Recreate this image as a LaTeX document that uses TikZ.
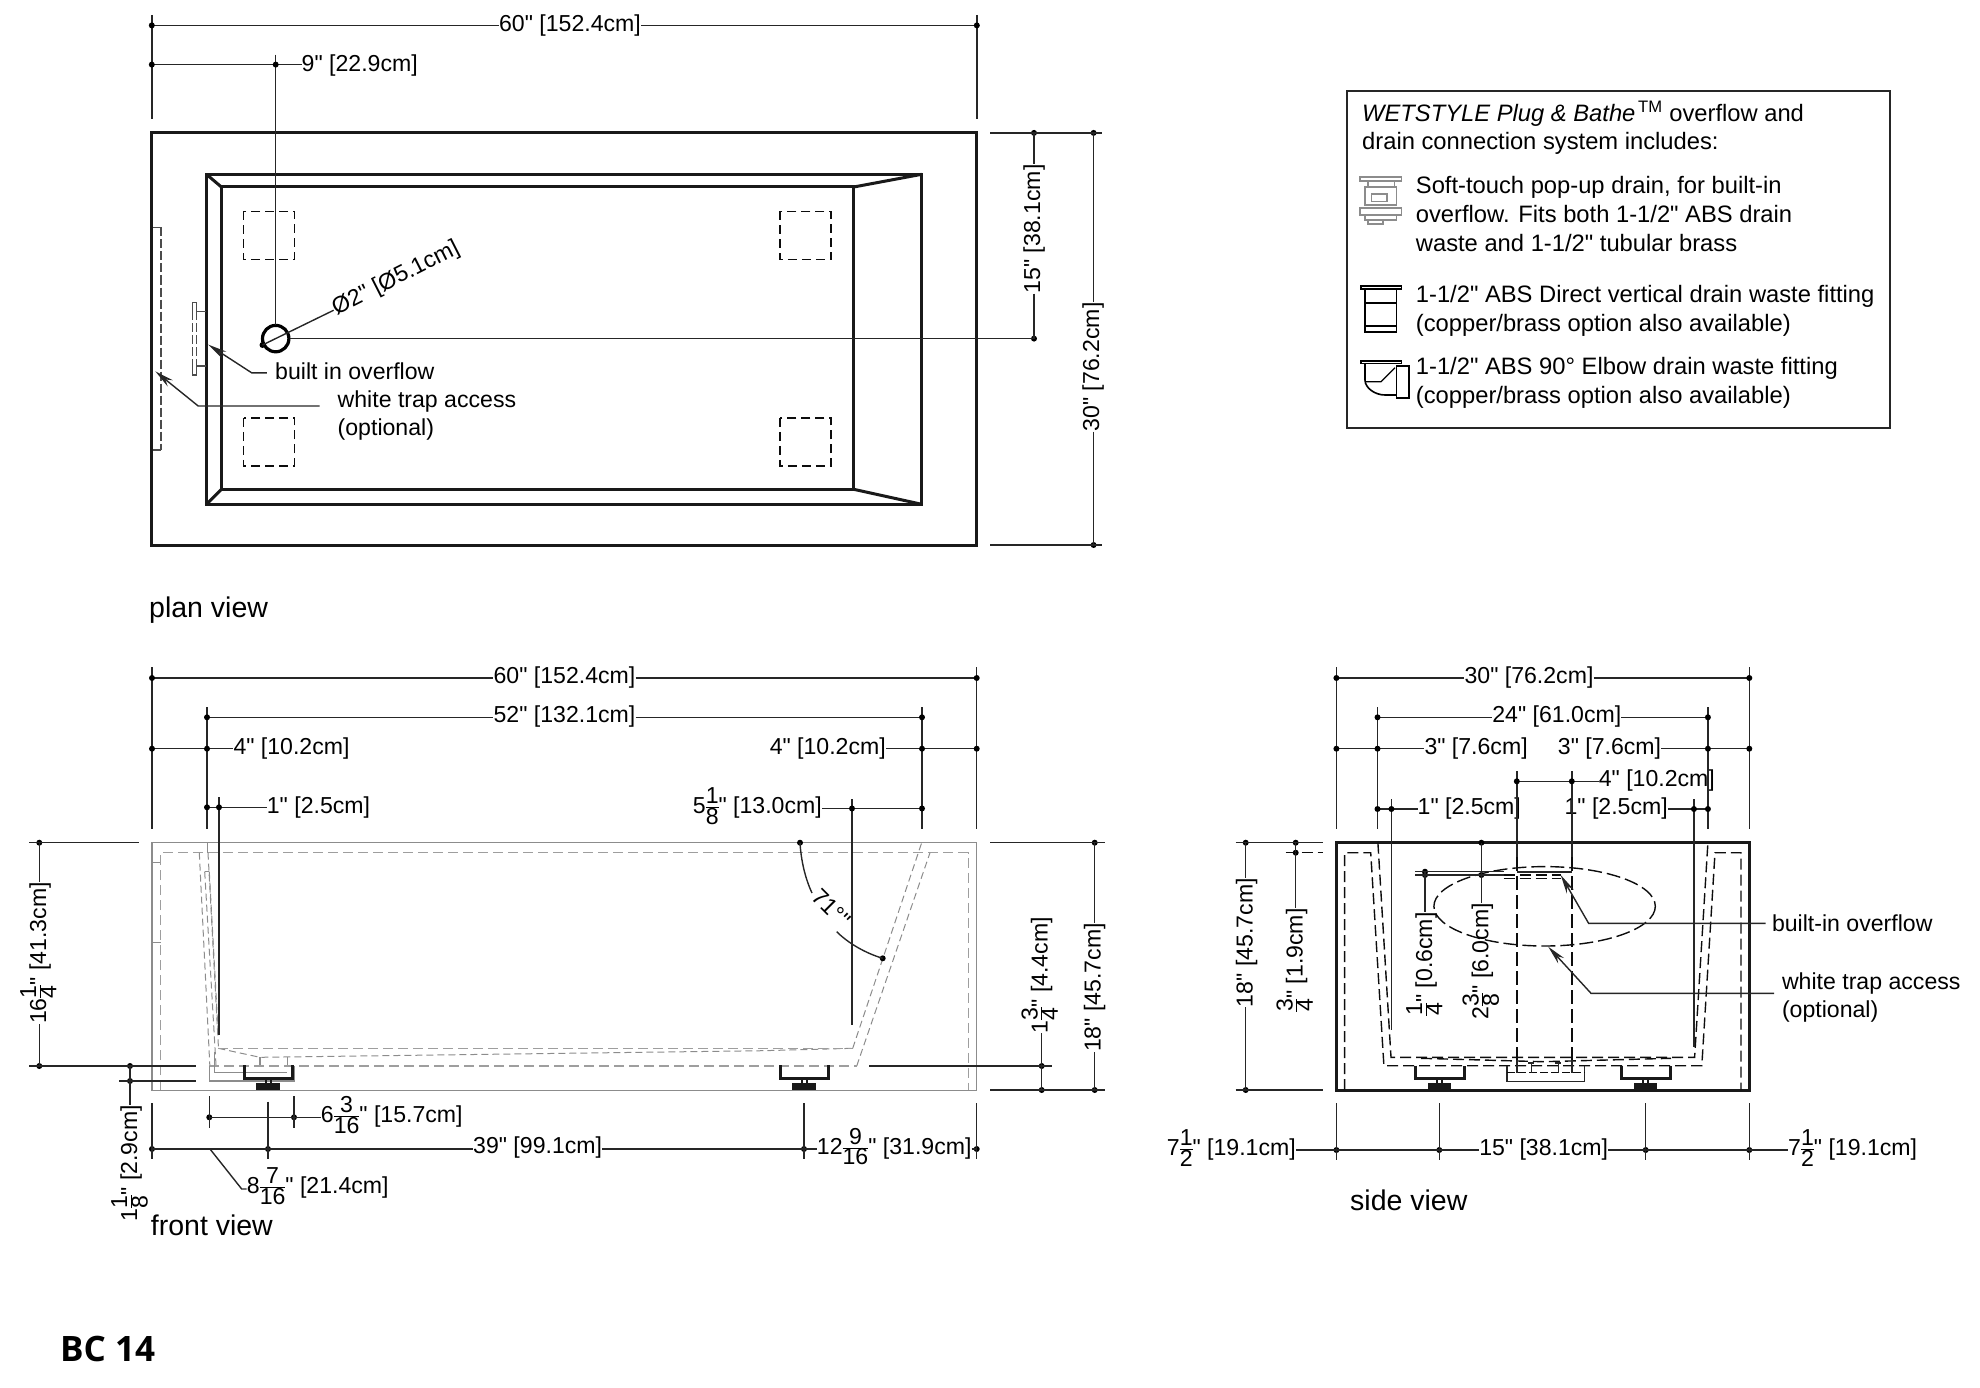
\documentclass[tikz,border=0pt]{standalone}
\usepackage{fontspec}
\newfontfamily\dimface{Liberation Sans}
\newfontfamily\labelfont{Open Sans}
\usepackage{tikz}
\usetikzlibrary{arrows.meta}
\usetikzlibrary{calc}
\definecolor{linegray}{rgb}{0.55,0.55,0.55}
\definecolor{dashgray}{rgb}{0.62,0.62,0.62}
\newcommand{\dimfont}{\dimface\fontsize{23.1}{27}\selectfont}
\newcommand{\legfont}{\dimface\fontsize{23.75}{27}\selectfont}
\newcommand{\viewfont}{\dimface\fontsize{28.5}{33}\selectfont}
\newcommand{\fr}[2]{{\nulldelimiterspace=0pt$\frac{\mbox{#1}}{\mbox{#2}}$}}
\tikzset{
  dimtxt/.style={inner sep=0pt,font=\dimfont},
  legtxt/.style={inner sep=0pt,font=\legfont,anchor=base west},
  viewtxt/.style={inner sep=0pt,font=\viewfont,anchor=base west},
  dimline/.style={line width=1.4pt,black!85},
  outline/.style={line width=3pt,black!90,line join=miter},
  thinline/.style={line width=1.1pt,linegray},
  graydash/.style={line width=1.3pt,dashgray,dash pattern=on 10pt off 5pt},
  fine/.style={line width=1pt,linegray,dash pattern=on 7pt off 4pt},
  blackdash/.style={line width=1.4pt,black!95,dash pattern=on 11pt off 5pt},
  leader/.style={line width=1.4pt,black!85,-{Stealth[length=19pt,width=8pt]}}
}
\begin{document}
\begin{tikzpicture}[x=1pt,y=-1pt]
\useasboundingbox (0,0) rectangle (1980,1388);

% plan view
\draw[outline] (151.8,132.9) rectangle (976.8,545);
\draw[outline] (206.4,174.3) rectangle (921.8,504.3);
\draw[outline] (221.4,187) rectangle (853.7,489.3);
\draw[outline] (206.4,174.3) -- (221.4,187);
\draw[outline] (206.4,504.3) -- (221.4,489.3);
\draw[outline] (921.8,174.3) -- (853.7,187);
\draw[outline] (921.8,504.3) -- (853.7,489.3);
\foreach \x in {243.6,780} {
  \draw[blackdash,dash pattern=on 9pt off 5pt] (\x,211.4) rectangle ++(51,48.2);
  \draw[blackdash,dash pattern=on 9pt off 5pt] (\x,417.9) rectangle ++(51,48.2);
}
\draw[line width=3.2pt] (275.7,338.6) circle (13.2);
\fill (262.5,345) circle (3);
% white trap access and overflow
\draw[thinline,black!70] (152.9,227.5) -- (161,227.5);
\draw[thinline,black!70] (152.9,450) -- (161,450);
\draw[line width=1.1pt,black!70,dash pattern=on 9pt off 3pt] (161,227.5) -- (161,450);
\draw[line width=1.1pt,black!70] (206.4,311.4) -- (196.4,311.4) -- (196.4,302.5) -- (192.9,302.5) -- (192.9,311.4);
\draw[line width=1.1pt,black!70] (206.4,366) -- (196.4,366) -- (196.4,375) -- (192.9,375) -- (192.9,366);
\draw[line width=1.1pt,black!70,dash pattern=on 9pt off 3pt] (192.9,311.4) -- (192.9,366);
\draw[line width=1.1pt,black!70,dash pattern=on 9pt off 3pt] (196.4,311.4) -- (196.4,366);

\node[dimtxt] (plan60) at (570,32) [anchor=base] {60" [152.4cm]};
\draw[dimline] (151.8,25.4) -- (plan60.west|-0,25.4);
\draw[dimline] (plan60.east|-0,25.4) -- (976.8,25.4);
\node[dimtxt,anchor=base west] (plan9) at (301.5,71.5) {9" [22.9cm]};
\draw[dimline] (151.8,64.6) -- (plan9.west|-0,64.6);
\draw[dimline] (151.8,15) -- (151.8,119);
\draw[dimline] (976.8,15) -- (976.8,119);
\draw[dimline] (275.7,54.6) -- (275.7,325.4);
\foreach \x/\y in {151.8/25.4,976.8/25.4,151.8/64.6,275.7/64.6,1034/338.6,1034/132.9,1093.6/132.9,1093.6/545}
  \fill (\x,\y) circle (3);
\node[dimtxt,rotate=26.9,anchor=base] (plandia) at (398.6,284) {Ø2" [Ø5.1cm]};
\draw[dimline] (262.5,345) -- (plandia.west);
\draw[dimline] (290.4,338.6) -- (1034,338.6);
\node[dimtxt,rotate=90,anchor=base] (plan15) at (1040,229) {15" [38.1cm]};
\draw[dimline] (1034,132.9) -- (plan15.east-|1034,0);
\draw[dimline] (plan15.west-|1034,0) -- (1034,338.6);
\node[dimtxt,rotate=90,anchor=base] (plan30) at (1099,367) {30" [76.2cm]};
\draw[dimline] (1093.6,132.9) -- (plan30.east-|1093.6,0);
\draw[dimline] (plan30.west-|1093.6,0) -- (1093.6,545);
\draw[dimline] (990,132.9) -- (1102,132.9);
\draw[dimline] (990,545) -- (1102,545);
\node[dimtxt,anchor=base west] (planof) at (275,379) {built in overflow};
\node[dimtxt,anchor=base west] (plantrap) at (337.5,407) {white trap access};
\node[dimtxt,anchor=base west] (planopt) at (337.5,435.5) {(optional)};
\coordinate (planofend) at (266.8,372.9);
\draw[leader] (planofend) -- (251.8,372.9) -- (208.2,344.6);
\draw[leader] (319.6,406) -- (198.2,406) -- (155.4,371.4);
\node[viewtxt] (planview) at (149,617.5) {plan view};

% legend
\draw[line width=1.5pt,black!85] (1346.8,91) rectangle (1890,428);
\node[legtxt] (leg1) at (1362,121.5) {\textit{WETSTYLE Plug \& Bathe}\textsuperscript{\,TM} overflow and};
\node[legtxt] (leg2) at (1362,150) {drain connection system includes:};
\node[legtxt] (leg3) at (1415.7,194) {Soft-touch pop-up drain, for built-in};
\node[legtxt] (leg4) at (1415.7,223) {overflow. Fits both 1-1/2" ABS drain};
\node[legtxt] (leg5) at (1415.7,252) {waste and 1-1/2" tubular brass};
\node[legtxt] (leg6) at (1415.7,302.5) {1-1/2" ABS Direct vertical drain waste fitting};
\node[legtxt] (leg7) at (1415.7,331.5) {(copper/brass option also available)};
\node[legtxt] (leg8) at (1415.7,374.5) {1-1/2" ABS 90° Elbow drain waste fitting};
\node[legtxt] (leg9) at (1415.7,403.5) {(copper/brass option also available)};
% legend icons
\draw[thinline] (1360,177) rectangle (1401.5,181);
\draw[thinline] (1368,181) rectangle (1394.6,187);
\draw[thinline] (1365,187) rectangle (1396.5,205);
\draw[thinline] (1371.7,194) rectangle (1387,201.7);
\draw[thinline] (1360,208) rectangle (1401.5,215);
\draw[thinline] (1365,215) rectangle (1396.5,220);
\draw[thinline] (1368,220) rectangle (1383,224);
\draw[line width=1.6pt] (1361,286) rectangle (1401.5,289);
\draw[line width=1.6pt] (1365,289) rectangle (1396.5,332);
\draw[line width=1.6pt] (1365,303) -- (1396.5,303);
\draw[line width=1.6pt] (1365,326) -- (1396.5,326);
\draw[line width=1.6pt] (1361,360.7) rectangle (1401.5,363.3);
\draw[line width=1.6pt] (1365,363.3) -- (1365,380) .. controls (1365,388) and (1375,395) .. (1385,395) -- (1396.5,395);
\draw[line width=1.6pt] (1396.5,366) rectangle (1409,397.7);
\draw[line width=1.2pt] (1365,381.7) -- (1381,381.7) -- (1395,367.7);

% front view
\draw[thinline] (152,842.7) rectangle (976.7,1090.3);
\draw[thinline] (152,862.7) -- (160.7,862.7);
\draw[thinline] (152,942.3) -- (160.7,942.3);
\draw[thinline] (207.3,842.7) -- (207.3,852.7);
\draw[graydash] (160.7,1090) -- (160.7,852.7) -- (968.3,852.7) -- (968.3,1090);
\draw[fine] (199.3,852.7) -- (209.8,1065);
\draw[fine] (208,852.7) -- (218.5,1048.3);
\draw[fine] (204.7,871.7) -- (216,1065);
\draw[fine] (209.3,871.7) -- (218,1030);
\draw[thinline] (204.7,871.7) -- (209.3,871.7);
\draw[fine] (218.3,1048.3) -- (260,1057.3) -- (763,1050.7) -- (852.7,1048.3);
\draw[graydash] (218.3,1048.3) -- (852.7,1048.3);
\draw[fine] (852.7,1048.3) -- (921.7,842.7);
\draw[fine] (856.7,1066) -- (930,852.7);
\draw[graydash] (209.3,1066) -- (856.7,1066);
\draw[thinline] (209.3,1066) -- (209.3,1081) -- (294.3,1081) -- (294.3,1066);
\draw[thinline] (214.3,1052) -- (214.3,1072.7) -- (286.7,1072.7);
\draw[thinline] (260,1057.3) -- (260,1065);
\draw[thinline] (287.3,1057.3) -- (287.3,1065);
\foreach \x in {268,804} {
  \draw[line width=3pt,black!90] (\x-24,1065) -- (\x-24,1078.3) -- (\x+24.5,1078.3) -- (\x+24.5,1065);
  \draw[line width=2pt,black!90] (\x-2.5,1078.3) -- (\x-2.5,1084);
  \draw[line width=2pt,black!90] (\x+2.5,1078.3) -- (\x+2.5,1084);
  \draw[line width=1.5pt,black!90,fill=black!90] (\x-11,1084) rectangle (\x+11,1089);
}
\node[dimtxt,anchor=base] (front60) at (564.5,683) {60" [152.4cm]};
\draw[dimline] (152,678) -- (front60.west|-0,678);
\draw[dimline] (front60.east|-0,678) -- (976.7,678);
\node[dimtxt,anchor=base] (front52) at (564.5,722.5) {52" [132.1cm]};
\draw[dimline] (207,717.3) -- (front52.west|-0,717.3);
\draw[dimline] (front52.east|-0,717.3) -- (922,717.3);
\node[dimtxt,anchor=base west] (front4l) at (233.3,754) {4" [10.2cm]};
\draw[dimline] (152,748.7) -- (front4l.west|-0,748.7);
\node[dimtxt,anchor=base east] (front4r) at (886,754) {4" [10.2cm]};
\draw[dimline] (front4r.east|-0,748.7) -- (976.7,748.7);
\node[dimtxt,anchor=base west] (front1) at (266.7,813) {1" [2.5cm]};
\draw[dimline] (207,807.3) -- (front1.west|-0,807.3);
\node[dimtxt,anchor=base east] (front5) at (822,813.5) {5\fr{1}{8}" [13.0cm]};
\draw[dimline] (front5.east|-0,808.5) -- (922,808.5);
\draw[dimline] (152,667.3) -- (152,829.3);
\draw[dimline] (976.7,667.3) -- (976.7,829.3);
\draw[dimline] (207,707.3) -- (207,829.3);
\draw[dimline] (922,707.3) -- (922,829.3);
\draw[dimline] (219,797.3) -- (219,1035);
\draw[dimline] (852,799.3) -- (852,1025);
\foreach \x/\y in {152/678,976.7/678,207/717.3,922/717.3,152/748.7,207/748.7,922/748.7,976.7/748.7,
    207/807.3,219/807.3,852/808.5,922/808.5,
    39.3/842.7,39.3/1066,130/1066,130/1081,
    1041.7/1066,1041.7/1090,1094.7/842.7,1094.7/1090,
    209.3/1117.3,294/1117.3,152/1149,268/1149,804/1149,976.7/1149,800/842.7,882.7/958.3}
  \fill (\x,\y) circle (3);
% front view left side
\node[dimtxt,rotate=90,anchor=base] (front16) at (46,953) {16\fr{1}{4}" [41.3cm]};
\draw[dimline] (39.3,842.7) -- (front16.east-|39.3,0);
\draw[dimline] (front16.west-|39.3,0) -- (39.3,1066);
\draw[dimline] (29.3,842.7) -- (138.7,842.7);
\draw[dimline] (29.3,1066) -- (196,1066);
\draw[dimline] (119.3,1081) -- (196,1081);
\node[dimtxt,rotate=90,anchor=base] (front11) at (137,1163) {1\fr{1}{8}" [2.9cm]};
\draw[dimline] (130,1066) -- (front11.east-|130,0);
% front view right side
\node[dimtxt,rotate=90,anchor=base] (front13) at (1047.5,975) {1\fr{3}{4}" [4.4cm]};
\draw[dimline] (1041.7,1090) -- (front13.west-|1041.7,0);
\draw[dimline] (869.3,1066) -- (1051.7,1066);
\node[dimtxt,rotate=90,anchor=base] (front18) at (1100.5,987.5) {18" [45.7cm]};
\draw[dimline] (1094.7,842.7) -- (front18.east-|1094.7,0);
\draw[dimline] (front18.west-|1094.7,0) -- (1094.7,1090);
\draw[dimline] (990,842.7) -- (1105,842.7);
\draw[dimline] (990,1090) -- (1105,1090);
% angle
\node[dimtxt,rotate=-45,anchor=base] (front71) at (826,914) {71°"};
\draw[dimline] (800,842.7) .. controls (801,860) and (805,878) .. (812,893);
\draw[dimline] (836.7,931.7) .. controls (848,943) and (865,953) .. (882.7,958.3);
% front view bottom
\node[dimtxt,anchor=base west] (front6) at (320.7,1122.5) {6\fr{3}{16}" [15.7cm]};
\draw[dimline] (209.3,1117.3) -- (front6.west|-0,1117.3);
\draw[dimline] (209.3,1096) -- (209.3,1127.7);
\draw[dimline] (294,1096) -- (294,1127.7);
\node[dimtxt,anchor=base west] (front39) at (473,1153.5) {39" [99.1cm]};
\draw[dimline] (152,1149) -- (front39.west|-0,1149);
\node[dimtxt,anchor=base west] (front12) at (816.7,1154) {12\fr{9}{16}" [31.9cm]};
\draw[dimline] (front39.east|-0,1149) -- (front12.west|-0,1149);
\draw[dimline] (front12.east|-0,1149) -- (976.7,1149);
\draw[dimline] (152,1103.3) -- (152,1159.3);
\draw[dimline] (268,1101.7) -- (268,1159.3);
\draw[dimline] (804,1103.3) -- (804,1159.3);
\draw[dimline] (976.7,1103.3) -- (976.7,1159.3);
\node[dimtxt,anchor=base west] (front8) at (246.7,1193.5) {8\fr{7}{16}" [21.4cm]};
\draw[dimline] (210,1149) -- (241.7,1189) -- (front8.west|-0,1189);
\node[viewtxt] (frontview) at (150.7,1235.5) {front view};

% side view
\draw[outline] (1336.4,842.7) rectangle (1749.3,1090);
\draw[blackdash] (1344.6,1090) -- (1344.6,852.7) -- (1370.7,852.7) -- (1383.9,1065.7) -- (1701.8,1065.7) -- (1715,852.7) -- (1741,852.7) -- (1741,1090);
\draw[blackdash] (1377.9,842.7) -- (1391,1057.3) -- (1694.6,1057.3) -- (1707.9,842.7);
\draw[blackdash] (1421,1058.3) -- (1542.9,1061.7) -- (1671,1058.3);
\draw[blackdash,dash pattern=on 14pt off 5pt] (1516.8,857.3) -- (1516.8,1060);
\draw[blackdash,dash pattern=on 14pt off 5pt] (1571.8,857.3) -- (1571.8,1060);
\draw[blackdash,dash pattern=on 14pt off 5pt] (1544.6,906.3) ellipse (110.7 and 39.7);
\draw[blackdash,line width=1.2pt] (1503.6,875) -- (1561,875);
\draw[blackdash,line width=1.2pt] (1503.6,878.5) -- (1561,878.5);
\draw[dimline] (1516.8,872) -- (1571.8,872);
% side view feet
\foreach \x in {1439.7,1645.7} {
  \draw[line width=2.6pt,black!90] (\x-24.5,1065.7) -- (\x-24.5,1078.3) -- (\x+25,1078.3) -- (\x+25,1065.7);
  \draw[line width=1.8pt,black!90] (\x-2.5,1078.3) -- (\x-2.5,1084);
  \draw[line width=1.8pt,black!90] (\x+2.5,1078.3) -- (\x+2.5,1084);
  \draw[line width=1.5pt,black!90,fill=black!90] (\x-11,1084) rectangle (\x+11,1089);
}
% side view drain box
\draw[dimline] (1507,1065.7) -- (1507,1081.7) -- (1584.6,1081.7) -- (1584.6,1065.7);
\draw[blackdash,dash pattern=on 8pt off 3pt] (1507,1072.7) -- (1584.6,1072.7);
\foreach \x in {1516.8,1571.8} \draw[dimline] (\x,1060) -- (\x,1072.7);
\foreach \x in {1531.4,1558.2} {
  \draw[dimline] (\x,1063) -- (\x,1072.7);
  \draw[dimline] (\x-3,1063) -- (\x+3,1063);
}
\node[dimtxt,anchor=base] (side30) at (1529,683) {30" [76.2cm]};
\draw[dimline] (1336.4,678) -- (side30.west|-0,678);
\draw[dimline] (side30.east|-0,678) -- (1749.3,678);
\node[dimtxt,anchor=base] (side24) at (1556.8,722.5) {24" [61.0cm]};
\draw[dimline] (1377.5,717.3) -- (side24.west|-0,717.3);
\draw[dimline] (side24.east|-0,717.3) -- (1707.9,717.3);
\node[dimtxt,anchor=base west] (side3l) at (1424.3,754) {3" [7.6cm]};
\draw[dimline] (1336.4,748.7) -- (side3l.west|-0,748.7);
\node[dimtxt,anchor=base east] (side3r) at (1661.3,754) {3" [7.6cm]};
\draw[dimline] (side3r.east|-0,748.7) -- (1749.3,748.7);
\node[dimtxt,anchor=base west] (side4) at (1598.6,786.5) {4" [10.2cm]};
\draw[dimline] (1516.8,781.3) -- (side4.west|-0,781.3);
\node[dimtxt,anchor=base west] (side1l) at (1417.5,814.5) {1" [2.5cm]};
\draw[dimline] (1377.5,809) -- (side1l.west|-0,809);
\node[dimtxt,anchor=base east] (side1r) at (1668,814.5) {1" [2.5cm]};
\draw[dimline] (side1r.east|-0,809) -- (1707.9,809);
\draw[dimline] (1336.4,667.3) -- (1336.4,829.3);
\draw[dimline] (1749.3,667.3) -- (1749.3,829.3);
\draw[dimline] (1377.5,707.3) -- (1377.5,829.3);
\draw[dimline] (1707.9,707.3) -- (1707.9,829.3);
\draw[dimline] (1516.8,771) -- (1516.8,857.3);
\draw[dimline] (1571.8,771) -- (1571.8,857.3);
\draw[dimline] (1391.4,799.3) -- (1391.4,1030);
\draw[dimline] (1693.9,799.3) -- (1693.9,1046.7);
\foreach \x/\y in {1336.4/678,1749.3/678,1377.5/717.3,1707.9/717.3,1336.4/748.7,1377.5/748.7,1707.9/748.7,1749.3/748.7,
    1516.8/781.3,1571.8/781.3,1377.5/809,1391.4/809,1693.9/809,1707.9/809,
    1245.7/842.7,1245.7/1090,1295.7/842.7,1295.7/852.7,1481.4/842.7,1481.4/875,1425/871.7,1425/875,
    1336.4/1150,1439.3/1150,1645.7/1150,1749.3/1150}
  \fill (\x,\y) circle (3);
% side view left side
\node[dimtxt,rotate=90,anchor=base] (side18) at (1252.5,942.7) {18" [45.7cm]};
\draw[dimline] (1245.7,842.7) -- (side18.east-|1245.7,0);
\draw[dimline] (side18.west-|1245.7,0) -- (1245.7,1090);
\draw[dimline] (1235.7,842.7) -- (1323.2,842.7);
\draw[dimline] (1235.7,1090) -- (1323.2,1090);
\node[dimtxt,rotate=90,anchor=base] (side34) at (1302.5,960) {\fr{3}{4}" [1.9cm]};
\draw[dimline] (1295.7,842.7) -- (side34.east-|1295.7,0);
\draw[blackdash,line width=1.2pt] (1285.7,852.7) -- (1323,852.7);
% side view inner dims
\draw[dimline] (1415.4,871.7) -- (1503.6,871.7);
\draw[dimline] (1415.4,875) -- (1503.6,875);
\node[dimtxt,rotate=90,anchor=base] (side14) at (1432,964) {\fr{1}{4}" [0.6cm]};
\draw[dimline] (1425,871.7) -- (side14.east-|1425,0);
\node[dimtxt,rotate=90,anchor=base] (side23) at (1488.4,961) {2\fr{3}{8}" [6.0cm]};
\draw[dimline] (1481.4,842.7) -- (side23.east-|1481.4,0);
% side view leaders
\node[dimtxt,anchor=base west] (sideof) at (1771.8,931) {built-in overflow};
\node[dimtxt,anchor=base west] (sidetrap) at (1781.8,989.5) {white trap access};
\node[dimtxt,anchor=base west] (sideopt) at (1781.8,1017) {(optional)};
\draw[leader] (1765.5,923.3) -- (1588.6,923.3) -- (1560.7,875);
\draw[leader] (1774,993.3) -- (1591,993.3) -- (1548.2,946.7);
% side view bottom
\node[dimtxt,anchor=base east] (side7l) at (1296,1155.5) {7\fr{1}{2}" [19.1cm]};
\draw[dimline] (side7l.east|-0,1150) -- (1336.4,1150);
\node[dimtxt,anchor=base] (side15) at (1543.7,1155.5) {15" [38.1cm]};
\draw[dimline] (1336.4,1150) -- (side15.west|-0,1150);
\draw[dimline] (side15.east|-0,1150) -- (1749.3,1150);
\node[dimtxt,anchor=base west] (side7r) at (1788,1155.5) {7\fr{1}{2}" [19.1cm]};
\draw[dimline] (1749.3,1150) -- (side7r.west|-0,1150);
\foreach \x in {1336.4,1439.3,1645.7,1749.3}
  \draw[dimline] (\x,1103.3) -- (\x,1160);
\node[viewtxt] (sideview) at (1350,1210.5) {side view};

\node[inner sep=0pt,anchor=base west,font=\labelfont\bfseries\fontsize{35}{40}\selectfont] (sheet) at (60,1361.5) {BC 14};
\end{tikzpicture}
\end{document}
